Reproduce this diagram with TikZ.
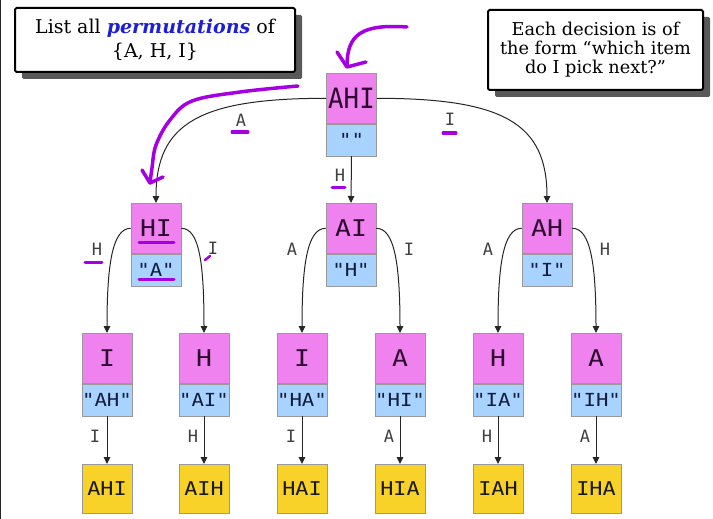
\documentclass[tikz,border=0pt]{standalone}
\usepackage{fontspec}
\setmainfont{DejaVu Serif}
\newfontfamily\monoS[FakeStretch=1.15]{DejaVu Sans Mono}
\newfontfamily\monoR[FakeStretch=0.92]{DejaVu Sans Mono}
\newfontfamily\monoL{DejaVu Sans Mono}
\usetikzlibrary{arrows.meta,shadows}
\definecolor{pinkc}{RGB}{240,130,240}
\definecolor{bluec}{RGB}{168,210,255}
\definecolor{yellc}{RGB}{248,210,40}
\definecolor{purp}{RGB}{165,0,225}
\definecolor{permblue}{RGB}{30,30,215}
\definecolor{pktext}{RGB}{45,10,45}
\definecolor{bltext}{RGB}{20,30,60}
\tikzset{
  x=1pt, y=-1pt,
  cell/.style={draw=black!40, line width=0.6pt, minimum width=50pt, inner sep=0pt, anchor=north},
  pk/.style={cell, fill=pinkc, minimum height=50pt, text=pktext, font=\monoS\fontsize{23}{23}\selectfont},
  pkroot/.style={pk, font=\monoR\fontsize{28}{28}\selectfont},
  bl/.style={cell, fill=bluec, minimum height=32pt, text=bltext, font=\monoS\fontsize{18}{18}\selectfont},
  yl/.style={cell, fill=yellc, minimum height=49pt, text=black!90, font=\monoS\fontsize{19}{19}\selectfont},
  lab/.style={inner sep=0pt, text=black!75, font=\monoL\fontsize{17}{17}\selectfont},
  conn/.style={draw=black!85, line width=1pt, -{Triangle[length=7pt,width=6.5pt]}},
  ann/.style={draw=purp, line width=3.5pt, line cap=round, line join=round},
  note/.style={draw=black, line width=2pt, rounded corners=1.5pt, fill=white, align=center,
    drop shadow={shadow xshift=7pt, shadow yshift=-7pt, fill=black!65, opacity=1}},
}
\begin{document}
\begin{tikzpicture}
\useasboundingbox[fill=white] (0,0) rectangle (713,519);
\fill[black!85] (0,0) rectangle (1.3,519);

% notes
\node[note, minimum width=280pt, minimum height=64pt, font=\fontsize{19}{24}\selectfont] (tl) at (155,40)
  {List all {\color{permblue}\bfseries\itshape permutations} of\\\{A, H, I\}};
\node[note, minimum width=215pt, minimum height=80pt, font=\fontsize{17.7}{19}\selectfont] (tr) at (595.5,50)
  {Each decision is of\\the form “which item\\do I pick next?”};

% root
\node[pkroot] (r) at (351.5,73) {AHI};
\node[bl] (rq) at (r.south) {""};

% level 2
\node[pk] (hi) at (156,203) {HI};
\node[bl] (hiq) at (hi.south) {"A"};
\node[pk] (ai) at (351,203) {AI};
\node[bl] (aiq) at (ai.south) {"H"};
\node[pk] (ah) at (547,203) {AH};
\node[bl] (ahq) at (ah.south) {"I"};

% level 3
\node[pk] (c1) at (107,333) {I};
\node[bl] (c1q) at (c1.south) {"AH"};
\node[pk] (c2) at (204,333) {H};
\node[bl] (c2q) at (c2.south) {"AI"};
\node[pk] (c3) at (302,333) {I};
\node[bl] (c3q) at (c3.south) {"HA"};
\node[pk] (c4) at (400,333) {A};
\node[bl] (c4q) at (c4.south) {"HI"};
\node[pk] (c5) at (498,333) {H};
\node[bl] (c5q) at (c5.south) {"IA"};
\node[pk] (c6) at (596,333) {A};
\node[bl] (c6q) at (c6.south) {"IH"};

% leaves
\node[yl] (y1) at (107,464) {AHI};
\node[yl] (y2) at (204,464) {AIH};
\node[yl] (y3) at (302,464) {HAI};
\node[yl] (y4) at (400,464) {HIA};
\node[yl] (y5) at (498,464) {IAH};
\node[yl] (y6) at (596,464) {IHA};

% connectors
\draw[conn] (r.west) .. controls +(-126,0) and +(0,-80) .. (hi.north);
\draw[conn] (rq.south) -- (ai.north);
\draw[conn] (r.east) .. controls +(126,0) and +(0,-80) .. (ah.north);
\foreach \p/\a/\b in {hi/c1/c2, ai/c3/c4, ah/c5/c6}{
  \draw[conn] (\p.west) .. controls +(-18,0) and +(0,-70) .. (\a.north);
  \draw[conn] (\p.east) .. controls +(18,0) and +(0,-70) .. (\b.north);
}
\foreach \i in {1,...,6}{
  \draw[conn] (c\i q.south) -- (y\i.north);
}

% labels
\node[lab] (lA) at (241,120) {A};
\node[lab] (lI) at (450,119) {I};
\node[lab] (lH) at (340,175) {H};
\node[lab] at (97,249) {H};
\node[lab] at (213,248) {I};
\node[lab] at (292,249) {A};
\node[lab] at (409,249) {I};
\node[lab] at (488,249) {A};
\node[lab] at (605,249) {H};
\node[lab] at (95,436) {I};
\node[lab] at (193,436) {H};
\node[lab] at (291,436) {I};
\node[lab] at (389,436) {A};
\node[lab] at (487,436) {H};
\node[lab] at (585,436) {A};

% hand-drawn annotations
\draw[ann] (407,27) .. controls (362,24) and (347,34) .. (347,66);
\draw[ann] (337,52) -- (347,67) -- (366,62);
\draw[ann] plot[smooth, tension=0.6] coordinates {(298,86) (240,92) (192,101) (170,120) (156,145) (152,168) (150,183)};
\draw[ann] (142,170) -- (150,183) -- (163,177);
\draw[ann, line width=3pt] (232,132) -- (248,132);
\draw[ann, line width=3pt] (443,133) -- (456,133);
\draw[ann, line width=3pt] (332,187) -- (345,187);
\draw[ann, line width=3pt] (139,242) -- (174,242);
\draw[ann, line width=3pt] (139,279) -- (174,279);
\draw[ann, line width=3pt] (85,262) -- (102,262);
\draw[ann, line width=2.5pt] (205,260) -- (210,256);
\end{tikzpicture}
\end{document}
